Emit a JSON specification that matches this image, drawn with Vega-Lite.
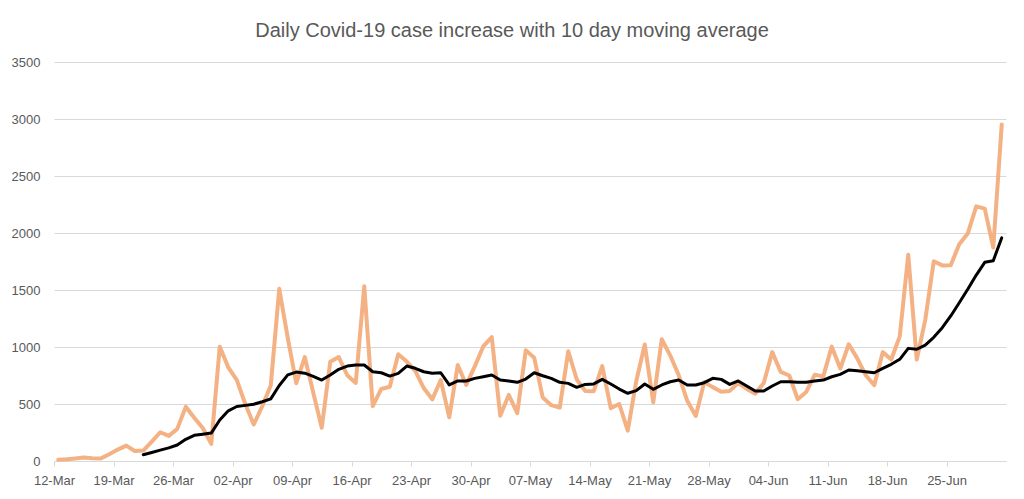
{
  "$schema": "https://vega.github.io/schema/vega-lite/v6.json",
  "width": 952,
  "height": 399,
  "autosize": {"type": "none"},
  "padding": {"left": 54, "top": 62, "right": 18, "bottom": 38},
  "background": "#ffffff",
  "title": {
    "text": "Daily Covid-19 case increase with 10 day moving average",
    "font": "Liberation Sans",
    "fontSize": 20,
    "fontWeight": "normal",
    "color": "#595959",
    "frame": "group",
    "anchor": "middle",
    "dx": -18,
    "offset": 15
  },
  "config": {
    "view": {"stroke": null},
    "font": "Liberation Sans"
  },
  "data": {
    "values": [
      {"date": "2020-03-12", "daily": 10},
      {"date": "2020-03-13", "daily": 15},
      {"date": "2020-03-14", "daily": 22},
      {"date": "2020-03-15", "daily": 30},
      {"date": "2020-03-16", "daily": 25},
      {"date": "2020-03-17", "daily": 22},
      {"date": "2020-03-18", "daily": 60},
      {"date": "2020-03-19", "daily": 100},
      {"date": "2020-03-20", "daily": 135},
      {"date": "2020-03-21", "daily": 88},
      {"date": "2020-03-22", "daily": 92, "avg": 55},
      {"date": "2020-03-23", "daily": 170, "avg": 75},
      {"date": "2020-03-24", "daily": 252, "avg": 95},
      {"date": "2020-03-25", "daily": 220, "avg": 115},
      {"date": "2020-03-26", "daily": 282, "avg": 140},
      {"date": "2020-03-27", "daily": 475, "avg": 190},
      {"date": "2020-03-28", "daily": 380, "avg": 225},
      {"date": "2020-03-29", "daily": 290, "avg": 235},
      {"date": "2020-03-30", "daily": 150, "avg": 245},
      {"date": "2020-03-31", "daily": 1002, "avg": 360},
      {"date": "2020-04-01", "daily": 822, "avg": 440},
      {"date": "2020-04-02", "daily": 712, "avg": 478},
      {"date": "2020-04-03", "daily": 500, "avg": 488},
      {"date": "2020-04-04", "daily": 320, "avg": 498},
      {"date": "2020-04-05", "daily": 480, "avg": 520},
      {"date": "2020-04-06", "daily": 662, "avg": 545},
      {"date": "2020-04-07", "daily": 1510, "avg": 662},
      {"date": "2020-04-08", "daily": 1080, "avg": 755},
      {"date": "2020-04-09", "daily": 682, "avg": 780},
      {"date": "2020-04-10", "daily": 912, "avg": 770},
      {"date": "2020-04-11", "daily": 600, "avg": 742},
      {"date": "2020-04-12", "daily": 292, "avg": 710},
      {"date": "2020-04-13", "daily": 870, "avg": 754},
      {"date": "2020-04-14", "daily": 912, "avg": 804},
      {"date": "2020-04-15", "daily": 752, "avg": 833},
      {"date": "2020-04-16", "daily": 685, "avg": 842},
      {"date": "2020-04-17", "daily": 1532, "avg": 842},
      {"date": "2020-04-18", "daily": 482, "avg": 783},
      {"date": "2020-04-19", "daily": 632, "avg": 774},
      {"date": "2020-04-20", "daily": 651, "avg": 745},
      {"date": "2020-04-21", "daily": 936, "avg": 769},
      {"date": "2020-04-22", "daily": 872, "avg": 833},
      {"date": "2020-04-23", "daily": 790, "avg": 813},
      {"date": "2020-04-24", "daily": 640, "avg": 783},
      {"date": "2020-04-25", "daily": 541, "avg": 769},
      {"date": "2020-04-26", "daily": 710, "avg": 774},
      {"date": "2020-04-27", "daily": 383, "avg": 667},
      {"date": "2020-04-28", "daily": 842, "avg": 702},
      {"date": "2020-04-29", "daily": 668, "avg": 702},
      {"date": "2020-04-30", "daily": 830, "avg": 725},
      {"date": "2020-05-01", "daily": 1005, "avg": 739},
      {"date": "2020-05-02", "daily": 1087, "avg": 754},
      {"date": "2020-05-03", "daily": 396, "avg": 710},
      {"date": "2020-05-04", "daily": 580, "avg": 702},
      {"date": "2020-05-05", "daily": 420, "avg": 690},
      {"date": "2020-05-06", "daily": 972, "avg": 719},
      {"date": "2020-05-07", "daily": 905, "avg": 774},
      {"date": "2020-05-08", "daily": 556, "avg": 748},
      {"date": "2020-05-09", "daily": 490, "avg": 725},
      {"date": "2020-05-10", "daily": 468, "avg": 690},
      {"date": "2020-05-11", "daily": 963, "avg": 681},
      {"date": "2020-05-12", "daily": 715, "avg": 646},
      {"date": "2020-05-13", "daily": 614, "avg": 672},
      {"date": "2020-05-14", "daily": 612, "avg": 676},
      {"date": "2020-05-15", "daily": 832, "avg": 716},
      {"date": "2020-05-16", "daily": 464, "avg": 675},
      {"date": "2020-05-17", "daily": 500, "avg": 631},
      {"date": "2020-05-18", "daily": 266, "avg": 594},
      {"date": "2020-05-19", "daily": 700, "avg": 617},
      {"date": "2020-05-20", "daily": 1022, "avg": 675},
      {"date": "2020-05-21", "daily": 515, "avg": 629},
      {"date": "2020-05-22", "daily": 1068, "avg": 667},
      {"date": "2020-05-23", "daily": 925, "avg": 695},
      {"date": "2020-05-24", "daily": 752, "avg": 710},
      {"date": "2020-05-25", "daily": 528, "avg": 667},
      {"date": "2020-05-26", "daily": 395, "avg": 667},
      {"date": "2020-05-27", "daily": 692, "avg": 687},
      {"date": "2020-05-28", "daily": 648, "avg": 725},
      {"date": "2020-05-29", "daily": 608, "avg": 716},
      {"date": "2020-05-30", "daily": 615, "avg": 672},
      {"date": "2020-05-31", "daily": 684, "avg": 702},
      {"date": "2020-06-01", "daily": 632, "avg": 658},
      {"date": "2020-06-02", "daily": 591, "avg": 614},
      {"date": "2020-06-03", "daily": 684, "avg": 614},
      {"date": "2020-06-04", "daily": 955, "avg": 658},
      {"date": "2020-06-05", "daily": 781, "avg": 695},
      {"date": "2020-06-06", "daily": 750, "avg": 695},
      {"date": "2020-06-07", "daily": 542, "avg": 690},
      {"date": "2020-06-08", "daily": 606, "avg": 690},
      {"date": "2020-06-09", "daily": 757, "avg": 702},
      {"date": "2020-06-10", "daily": 742, "avg": 710},
      {"date": "2020-06-11", "daily": 1003, "avg": 739},
      {"date": "2020-06-12", "daily": 811, "avg": 760},
      {"date": "2020-06-13", "daily": 1024, "avg": 798},
      {"date": "2020-06-14", "daily": 900, "avg": 792},
      {"date": "2020-06-15", "daily": 752, "avg": 783},
      {"date": "2020-06-16", "daily": 665, "avg": 774},
      {"date": "2020-06-17", "daily": 955, "avg": 813},
      {"date": "2020-06-18", "daily": 890, "avg": 848},
      {"date": "2020-06-19", "daily": 1093, "avg": 892},
      {"date": "2020-06-20", "daily": 1810, "avg": 988},
      {"date": "2020-06-21", "daily": 890, "avg": 980},
      {"date": "2020-06-22", "daily": 1238, "avg": 1017},
      {"date": "2020-06-23", "daily": 1752, "avg": 1085},
      {"date": "2020-06-24", "daily": 1716, "avg": 1169},
      {"date": "2020-06-25", "daily": 1718, "avg": 1272},
      {"date": "2020-06-26", "daily": 1902, "avg": 1388},
      {"date": "2020-06-27", "daily": 1995, "avg": 1506},
      {"date": "2020-06-28", "daily": 2234, "avg": 1631},
      {"date": "2020-06-29", "daily": 2214, "avg": 1743},
      {"date": "2020-06-30", "daily": 1872, "avg": 1757},
      {"date": "2020-07-01", "daily": 2952, "avg": 1958}
    ]
  },
  "encoding": {
    "x": {
      "field": "date",
      "type": "temporal",
      "timeUnit": "utcyearmonthdate",
      "bandPosition": 0.5,
      "title": null,
      "scale": {
        "domain": [
          {"year": 2020, "month": 3, "date": 12, "utc": true},
          {"year": 2020, "month": 7, "date": 2, "utc": true}
        ]
      },
      "axis": {
        "values": [
          {"year": 2020, "month": 3, "date": 12, "utc": true},
          {"year": 2020, "month": 3, "date": 19, "utc": true},
          {"year": 2020, "month": 3, "date": 26, "utc": true},
          {"year": 2020, "month": 4, "date": 2, "utc": true},
          {"year": 2020, "month": 4, "date": 9, "utc": true},
          {"year": 2020, "month": 4, "date": 16, "utc": true},
          {"year": 2020, "month": 4, "date": 23, "utc": true},
          {"year": 2020, "month": 4, "date": 30, "utc": true},
          {"year": 2020, "month": 5, "date": 7, "utc": true},
          {"year": 2020, "month": 5, "date": 14, "utc": true},
          {"year": 2020, "month": 5, "date": 21, "utc": true},
          {"year": 2020, "month": 5, "date": 28, "utc": true},
          {"year": 2020, "month": 6, "date": 4, "utc": true},
          {"year": 2020, "month": 6, "date": 11, "utc": true},
          {"year": 2020, "month": 6, "date": 18, "utc": true},
          {"year": 2020, "month": 6, "date": 25, "utc": true}
        ],
        "labelExpr": "utcFormat(datum.value, '%d-%b')",
        "grid": false,
        "domainColor": "#d9d9d9",
        "domainWidth": 1,
        "tickColor": "#d9d9d9",
        "tickSize": 5,
        "labelPadding": 8,
        "labelFontSize": 13,
        "labelColor": "#595959",
        "labelFlush": false,
        "labelOverlap": false
      }
    }
  },
  "layer": [
    {
      "mark": {"type": "line", "color": "#F4B183", "strokeWidth": 4, "strokeJoin": "round", "strokeCap": "round"},
      "encoding": {
        "y": {
          "field": "daily",
          "type": "quantitative",
          "title": null,
          "scale": {"domain": [0, 3500], "nice": false},
          "axis": {
            "values": [0, 500, 1000, 1500, 2000, 2500, 3000, 3500],
            "format": "d",
            "domain": false,
            "ticks": false,
            "gridColor": "#d9d9d9",
            "gridWidth": 1,
            "labelPadding": 14,
            "labelFontSize": 13,
            "labelColor": "#595959"
          }
        }
      }
    },
    {
      "transform": [{"filter": "isValid(datum.avg)"}],
      "mark": {"type": "line", "color": "#000000", "strokeWidth": 3, "strokeJoin": "round", "strokeCap": "round"},
      "encoding": {
        "y": {"field": "avg", "type": "quantitative"}
      }
    }
  ]
}
